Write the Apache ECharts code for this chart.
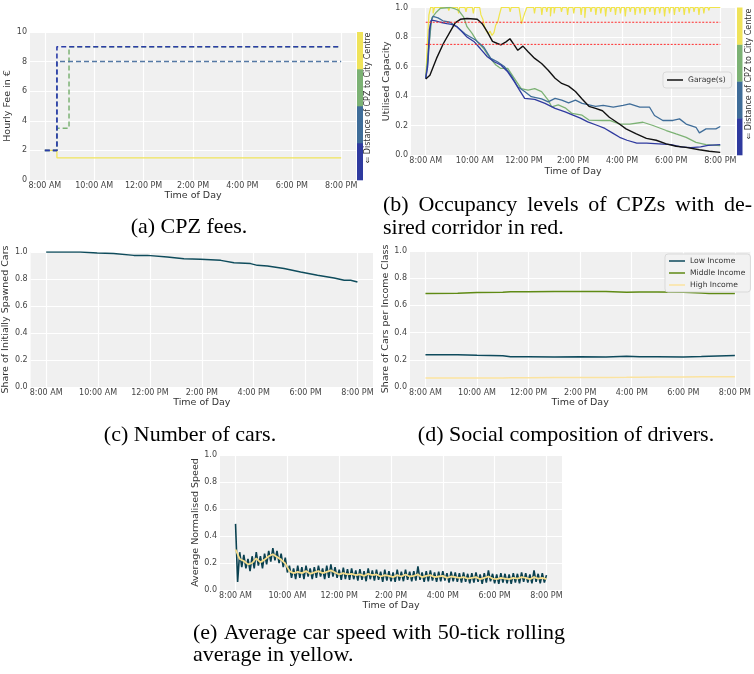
<!DOCTYPE html>
<html>
<head>
<meta charset="utf-8">
<script src="https://cdn.jsdelivr.net/npm/echarts@6/dist/echarts.min.js"></script>
<style>
html,body{margin:0;padding:0;background:#fff;}
#chart{width:754px;height:674px;}
</style>
</head>
<body>
<div id="chart"></div>
<script>
// ---------- tick labels ----------
const hourTicks = [8, 10, 12, 14, 16, 18, 20];
const hourTickLabels = ['8:00 AM', '10:00 AM', '12:00 PM', '2:00 PM', '4:00 PM', '6:00 PM', '8:00 PM'];

// ---------- (a) CPZ fees, [hour, €] step points ----------
const feeZoneDarkBlue = [[8.0, 2], [8.49, 9], [20.0, 9]];
const feeZoneSteelBlue = [[8.0, 2], [8.49, 8], [20.0, 8]];
const feeZoneGreen = [[8.0, 2], [8.49, 3.5], [8.98, 9], [20.0, 9]];
const feeZoneYellow = [[8.0, 2], [8.49, 1.5], [20.0, 1.5]];

// ---------- (b) occupancy, [hour, share] ----------
const occDarkBlue = [[8.0,0.52],[8.08,0.6],[8.15,0.85],[8.23,0.915],[8.4,0.91],[8.6,0.9],[8.86,0.89],[9.05,0.885],[9.27,0.87],[9.45,0.84],[9.68,0.8],[9.96,0.77],[10.23,0.72],[10.51,0.666],[10.79,0.632],[11.06,0.61],[11.34,0.564],[11.61,0.497],[11.82,0.44],[12.03,0.384],[12.44,0.377],[12.86,0.35],[13.27,0.316],[13.68,0.293],[14.0,0.27],[14.3,0.25],[14.6,0.225],[15.0,0.2],[15.3,0.18],[15.6,0.15],[15.9,0.12],[16.2,0.1],[16.6,0.08],[17.0,0.08],[17.5,0.075],[18.0,0.07],[18.4,0.055],[18.8,0.05],[19.2,0.055],[19.5,0.065],[20.0,0.07]];
const occSteelBlue = [[8.0,0.52],[8.1,0.65],[8.2,0.9],[8.3,0.94],[8.5,0.93],[8.7,0.91],[8.99,0.9],[9.27,0.87],[9.61,0.82],[10.03,0.78],[10.37,0.73],[10.65,0.655],[10.92,0.632],[11.2,0.6],[11.48,0.54],[11.75,0.463],[12.03,0.43],[12.3,0.395],[12.72,0.38],[12.99,0.36],[13.27,0.384],[13.54,0.372],[13.82,0.354],[14.1,0.372],[14.37,0.35],[14.65,0.34],[14.92,0.33],[15.23,0.336],[15.64,0.324],[16.04,0.336],[16.31,0.347],[16.72,0.324],[17.12,0.324],[17.32,0.268],[17.66,0.234],[18.07,0.234],[18.34,0.245],[18.61,0.21],[19.01,0.188],[19.15,0.15],[19.42,0.177],[19.82,0.177],[20.0,0.193]];
const occGreen = [[8.0,0.52],[8.1,0.7],[8.25,0.93],[8.44,0.97],[8.6,0.995],[9.0,1.0],[9.2,0.99],[9.34,0.98],[9.54,0.937],[9.68,0.87],[9.89,0.824],[10.1,0.767],[10.37,0.72],[10.58,0.666],[10.86,0.61],[11.06,0.587],[11.34,0.587],[11.61,0.52],[11.89,0.45],[12.17,0.44],[12.44,0.45],[12.72,0.43],[12.99,0.372],[13.13,0.327],[13.4,0.34],[13.68,0.32],[13.96,0.282],[14.37,0.27],[14.65,0.237],[15.2,0.234],[15.5,0.234],[15.9,0.21],[16.31,0.21],[16.85,0.222],[17.26,0.2],[17.8,0.166],[18.2,0.143],[18.61,0.12],[19.01,0.086],[19.42,0.07],[20.0,0.063]];
const occYellow = [[8.0,0.52],[8.08,0.8],[8.13,0.95],[8.2,1.0],[8.3,0.96],[8.36,1.0],[8.9,1.0],[8.94,0.98],[8.98,1.0],[9.3,1.0],[9.34,0.96],[9.38,1.0],[9.6,1.0],[9.64,0.97],[9.68,1.0],[9.9,1.0],[9.94,0.96],[9.98,1.0],[10.2,1.0],[10.25,0.95],[10.33,0.92],[10.4,0.87],[10.47,0.84],[10.55,0.82],[10.62,0.84],[10.7,0.81],[10.78,0.83],[10.85,0.88],[10.93,0.9],[11.0,0.95],[11.08,1.0],[11.4,1.0],[11.44,0.97],[11.48,1.0],[11.8,1.0],[11.85,0.95],[11.9,0.89],[11.97,0.93],[12.05,0.97],[12.12,1.0],[12.4,1.0],[12.43,0.96],[12.47,1.0],[12.7,1.0],[12.73,0.95],[12.77,1.0],[12.9,1.0],[12.93,0.97],[12.97,1.0],[13.05,1.0],[13.08,0.94],[13.12,1.0],[13.2,1.0],[13.23,0.96],[13.27,1.0],[13.5,1.0],[13.53,0.97],[13.57,1.0],[13.75,1.0],[13.78,0.95],[13.82,1.0],[14.0,1.0],[14.03,0.96],[14.07,1.0],[14.3,1.0],[14.33,0.95],[14.37,1.0],[14.45,1.0],[14.48,0.93],[14.52,1.0],[14.7,1.0],[14.73,0.97],[14.77,1.0],[14.9,1.0],[14.93,0.95],[14.97,1.0],[15.1,1.0],[15.13,0.96],[15.17,1.0],[15.3,1.0],[15.33,0.94],[15.37,1.0],[15.5,1.0],[15.53,0.97],[15.57,1.0],[15.7,1.0],[15.73,0.95],[15.77,1.0],[15.9,1.0],[15.93,0.96],[15.97,1.0],[16.1,1.0],[16.13,0.94],[16.17,1.0],[16.3,1.0],[16.33,0.97],[16.37,1.0],[16.5,1.0],[16.53,0.95],[16.57,1.0],[16.7,1.0],[16.73,0.96],[16.77,1.0],[16.9,1.0],[16.93,0.95],[16.97,1.0],[17.1,1.0],[17.13,0.97],[17.17,1.0],[17.3,1.0],[17.33,0.95],[17.37,1.0],[17.5,1.0],[17.53,0.96],[17.57,1.0],[17.7,1.0],[17.73,0.94],[17.77,1.0],[17.9,1.0],[17.93,0.96],[17.97,1.0],[18.1,1.0],[18.13,0.95],[18.17,1.0],[18.3,1.0],[18.33,0.97],[18.37,1.0],[18.5,1.0],[18.53,0.95],[18.57,1.0],[18.7,1.0],[18.73,0.96],[18.77,1.0],[18.9,1.0],[18.93,0.97],[18.97,1.0],[19.1,1.0],[19.13,0.95],[19.17,1.0],[19.3,1.0],[19.33,0.96],[19.37,1.0],[19.5,1.0],[19.53,0.98],[19.57,1.0],[20.0,1.0]];
const occGarage = [[8.0,0.515],[8.17,0.54],[8.44,0.655],[8.72,0.756],[8.99,0.835],[9.2,0.896],[9.41,0.92],[9.68,0.925],[10.1,0.92],[10.3,0.89],[10.51,0.835],[10.72,0.77],[10.92,0.756],[11.06,0.747],[11.27,0.767],[11.43,0.788],[11.61,0.745],[11.75,0.71],[11.96,0.738],[12.17,0.7],[12.44,0.655],[12.72,0.62],[12.99,0.575],[13.27,0.52],[13.54,0.485],[13.82,0.467],[14.1,0.43],[14.37,0.38],[14.65,0.33],[14.92,0.316],[15.2,0.3],[15.48,0.256],[15.89,0.21],[16.16,0.177],[16.58,0.143],[16.99,0.113],[17.39,0.1],[17.8,0.075],[18.2,0.059],[18.6,0.052],[19.15,0.036],[19.55,0.025],[20.0,0.018]];
const corridorBounds = [0.75, 0.9];
const corridorSpan = [8.0, 20.0];

// ---------- (c) share of initially spawned cars ----------
const carsShare = [[8.0,1.0],[9.32,1.0],[9.97,0.993],[10.6,0.988],[11.38,0.975],[11.9,0.975],[12.67,0.963],[13.31,0.95],[13.95,0.946],[14.73,0.938],[15.24,0.921],[15.88,0.914],[16.14,0.901],[16.53,0.896],[17.17,0.877],[17.81,0.852],[18.46,0.827],[19.1,0.807],[19.49,0.79],[19.74,0.79],[20.0,0.778]];

// ---------- (d) income classes ----------
const incomeTimes = [8.0, 9.25, 10.0, 11.0, 11.3, 12.0, 13.0, 14.0, 15.0, 15.8, 16.3, 17.0, 18.0, 18.7, 19.0, 20.0];
const incomeLow = [0.238,0.238,0.233,0.229,0.222,0.222,0.221,0.222,0.221,0.226,0.222,0.222,0.221,0.224,0.227,0.231];
const incomeMiddle = [0.688,0.689,0.695,0.697,0.701,0.701,0.702,0.702,0.702,0.697,0.699,0.699,0.697,0.692,0.688,0.688];
const incomeHigh = [0.066,0.066,0.067,0.067,0.068,0.068,0.069,0.069,0.07,0.071,0.072,0.073,0.074,0.075,0.075,0.076];

// ---------- (e) average normalised speed (sampled every 0.08 h from 8:00) ----------
const speedRawStart = 8.0, speedRawStep = 0.08;
const speedRaw = [0.49,0.06,0.28,0.17,0.26,0.16,0.23,0.14,0.25,0.16,0.28,0.18,0.25,0.16,0.27,0.19,0.29,0.21,0.31,0.22,
0.29,0.2,0.27,0.17,0.24,0.13,0.18,0.09,0.16,0.08,0.18,0.09,0.17,0.08,0.18,0.1,0.16,0.08,0.17,0.09,
0.18,0.1,0.16,0.08,0.18,0.09,0.19,0.1,0.17,0.09,0.15,0.075,0.165,0.08,0.155,0.075,0.16,0.08,0.145,0.07,
0.155,0.075,0.14,0.065,0.16,0.08,0.145,0.07,0.15,0.075,0.135,0.06,0.15,0.07,0.14,0.065,0.13,0.06,0.15,0.07,
0.135,0.065,0.15,0.075,0.135,0.065,0.14,0.07,0.175,0.075,0.13,0.06,0.14,0.065,0.145,0.07,0.13,0.06,0.135,0.065,
0.14,0.07,0.125,0.055,0.135,0.065,0.13,0.06,0.125,0.055,0.13,0.06,0.12,0.05,0.125,0.055,0.13,0.06,0.115,0.045,
0.125,0.055,0.145,0.065,0.12,0.05,0.115,0.045,0.125,0.055,0.12,0.05,0.115,0.045,0.125,0.055,0.12,0.05,0.13,0.06,
0.125,0.055,0.115,0.05,0.145,0.06,0.12,0.05,0.125,0.055,0.11];
const speedAvgStart = 8.0, speedAvgStep = 0.16;
const speedAvg = [0.30,0.23,0.215,0.19,0.2,0.235,0.205,0.225,0.25,0.265,0.245,0.225,0.195,0.14,0.125,0.135,0.125,0.14,0.12,0.13,
0.14,0.125,0.135,0.145,0.13,0.115,0.125,0.115,0.12,0.11,0.115,0.105,0.12,0.11,0.115,0.1,0.11,0.105,0.095,0.11,
0.1,0.115,0.1,0.105,0.115,0.095,0.105,0.11,0.095,0.1,0.105,0.09,0.1,0.095,0.09,0.095,0.085,0.09,0.095,0.08,
0.09,0.1,0.085,0.08,0.09,0.085,0.08,0.09,0.085,0.095,0.09,0.08,0.095,0.085,0.09,0.08];

// ---------- colours ----------
const zoneColors = ['#2f3a9f', '#3f6d99', '#7cb274', '#efe35a']; // colourbar bottom -> top
const txt = '#333333';
const sansFont = 'DejaVu Sans';
const serifFont = 'Liberation Serif';

// ---------- layout ----------
const grids = [
  {left: 30, top: 32, width: 326, height: 148},   // a
  {left: 411, top: 7.5, width: 324, height: 147.5}, // b
  {left: 30, top: 252, width: 343, height: 135},  // c
  {left: 410, top: 251, width: 342, height: 136}, // d
  {left: 220, top: 455, width: 342, height: 135}  // e
];
const yNames = ['Hourly Fee in €', 'Utilised Capacity', 'Share of Initially Spawned Cars', 'Share of Cars per Income Class', 'Average Normalised Speed'];
const yNameGaps = [15, 18, 17, 15.5, 17];
const xNameGaps = [10, 12, 10, 10, 9.5];

function xAxisFor(i) {
  return {
    type: 'value', gridIndex: i, min: 7.4, max: 20.6,
    axisLine: {show: false},
    axisTick: {show: false, customValues: hourTicks},
    axisLabel: {customValues: hourTicks, fontSize: 8, color: '#444', fontFamily: sansFont, margin: 2,
      formatter: v => hourTickLabels[hourTicks.indexOf(Math.round(v))] || ''},
    splitLine: {show: true, lineStyle: {color: '#ffffff', width: 1.2}},
    name: 'Time of Day', nameLocation: 'middle', nameGap: xNameGaps[i],
    nameTextStyle: {fontSize: 9.5, color: txt, fontFamily: sansFont}
  };
}
function yAxisFor(i) {
  const isFee = i === 0;
  return {
    type: 'value', gridIndex: i, min: 0, max: isFee ? 10 : 1, interval: isFee ? 2 : 0.2,
    axisLine: {show: false}, axisTick: {show: false},
    axisLabel: {fontSize: 8, color: '#444', fontFamily: sansFont, margin: 3,
      formatter: v => isFee ? String(Math.round(v)) : v.toFixed(1)},
    splitLine: {show: true, lineStyle: {color: '#ffffff', width: 1.2}},
    name: yNames[i], nameLocation: 'middle', nameGap: yNameGaps[i], nameRotate: 90,
    nameTextStyle: {fontSize: 9.5, color: txt, fontFamily: sansFont}
  };
}
function lineSeries(name, data, gi, color, width, extra) {
  return Object.assign({
    type: 'line', name: name, data: data, xAxisIndex: gi, yAxisIndex: gi,
    showSymbol: false, symbol: 'none', animation: false, silent: true,
    lineStyle: {color: color, width: width}, itemStyle: {color: color}
  }, extra || {});
}

const series = [];
// (a)
series.push(lineSeries('fee4', feeZoneYellow, 0, zoneColors[3], 1.3, {step: 'end'}));
series.push(lineSeries('fee3', feeZoneGreen, 0, zoneColors[2], 1.5, {step: 'end', lineStyle: {color: zoneColors[2], width: 1.5, type: [5, 3]}}));
series.push(lineSeries('fee2', feeZoneSteelBlue, 0, '#5579a5', 1.5, {step: 'end', lineStyle: {color: '#5579a5', width: 1.5, type: [5, 3]}}));
series.push(lineSeries('fee1', feeZoneDarkBlue, 0, '#2b3ca8', 1.6, {step: 'end', lineStyle: {color: '#2b3ca8', width: 1.6, type: [5, 3]}}));
// (b)
series.push(lineSeries('occ4', occYellow, 1, '#f0e44a', 1.2, {step: 'end'}));
series.push(lineSeries('occ3', occGreen, 1, zoneColors[2], 1.3));
series.push(lineSeries('occ2', occSteelBlue, 1, zoneColors[1], 1.3));
series.push(lineSeries('occ1', occDarkBlue, 1, zoneColors[0], 1.3));
series.push(lineSeries('Garage(s)', occGarage, 1, '#111111', 1.4));
corridorBounds.forEach((b, k) => {
  series.push(lineSeries('corridor' + k, corridorSpan.map(t => [t, b]), 1, '#ff2b2b', 1,
    {lineStyle: {color: '#ff2b2b', width: 1, type: [2, 1.5]}}));
});
// (c)
series.push(lineSeries('cars', carsShare, 2, '#0f4c5c', 1.5));
// (d)
series.push(lineSeries('Low Income', incomeTimes.map((t, k) => [t, incomeLow[k]]), 3, '#0e4a5c', 1.5));
series.push(lineSeries('Middle Income', incomeTimes.map((t, k) => [t, incomeMiddle[k]]), 3, '#5f8a14', 1.5));
series.push(lineSeries('High Income', incomeTimes.map((t, k) => [t, incomeHigh[k]]), 3, '#fbe3a0', 1.5));
// (e)
series.push(lineSeries('speedRaw', speedRaw.map((v, k) => [speedRawStart + k * speedRawStep, v]), 4, '#0a4150', 1.6));
series.push(lineSeries('speedAvg', speedAvg.map((v, k) => [speedAvgStart + k * speedAvgStep, v]), 4, '#f6dd8c', 1.8));

// ---------- graphics: colourbars & captions ----------
const graphics = [];
function colourbar(x, y0, y1, w) {
  const h = (y1 - y0) / zoneColors.length;
  zoneColors.forEach((c, k) => {
    graphics.push({type: 'rect', silent: true, shape: {x: x, y: y1 - (k + 1) * h, width: w, height: h + 0.3}, style: {fill: c}});
  });
}
colourbar(357, 32, 180, 6);
colourbar(737, 7.5, 155, 5.5);
const cbLabel = '⇐ Distance of CPZ to City Centre';
[[368, 98], [749, 74]].forEach(p => {
  graphics.push({type: 'text', silent: true, x: p[0], y: p[1], rotation: Math.PI / 2,
    style: {text: cbLabel, fontSize: 8, fontFamily: sansFont, fill: txt, align: 'center', verticalAlign: 'middle'}});
});

const capSize = 22;
const measureCtx = document.createElement('canvas').getContext('2d');
measureCtx.font = capSize + 'px "' + serifFont + '"';
function capText(text, x, y, align) {
  graphics.push({type: 'text', silent: true, x: x, y: y,
    style: {text: text, fontSize: capSize, fontFamily: serifFont, fill: '#000', align: align, verticalAlign: 'middle'}});
}
function capJustified(text, x0, x1, y) {
  const words = text.split(' ');
  const ws = words.map(w => measureCtx.measureText(w).width);
  const total = ws.reduce((a, b) => a + b, 0);
  const gap = (x1 - x0 - total) / (words.length - 1);
  let x = x0;
  words.forEach((w, k) => { capText(w, x, y, 'left'); x += ws[k] + gap; });
}
capText('(a) CPZ fees.', 189, 227, 'center');
capJustified('(b) Occupancy levels of CPZs with de-', 383, 752, 205);
capText('sired corridor in red.', 383, 228, 'left');
capText('(c) Number of cars.', 190, 435, 'center');
capText('(d) Social composition of drivers.', 566, 435, 'center');
capJustified('(e) Average car speed with 50-tick rolling', 193, 565, 633);
capText('average in yellow.', 193, 655, 'left');

const legendCommon = {
  orient: 'vertical', icon: 'rect', itemWidth: 16, itemHeight: 1.5, itemGap: 4, selectedMode: false,
  textStyle: {fontSize: 7.6, color: txt, fontFamily: sansFont},
  backgroundColor: 'rgba(242,242,242,0.9)', borderColor: '#d9d9d9', borderWidth: 1, borderRadius: 3
};

const chart = echarts.init(document.getElementById('chart'), null, {renderer: 'canvas'});
chart.setOption({
  animation: false,
  backgroundColor: '#ffffff',
  grid: grids.map(g => Object.assign({show: true, backgroundColor: '#f0f0f0', borderWidth: 0, containLabel: false}, g)),
  xAxis: grids.map((g, i) => xAxisFor(i)),
  yAxis: grids.map((g, i) => yAxisFor(i)),
  legend: [
    Object.assign({}, legendCommon, {data: ['Garage(s)'], left: 663, top: 72, padding: [4, 6, 4, 4]}),
    Object.assign({}, legendCommon, {data: ['Low Income', 'Middle Income', 'High Income'], left: 665, top: 254, padding: [3, 5, 3, 4]})
  ],
  series: series,
  graphic: graphics
});
</script>
</body>
</html>
